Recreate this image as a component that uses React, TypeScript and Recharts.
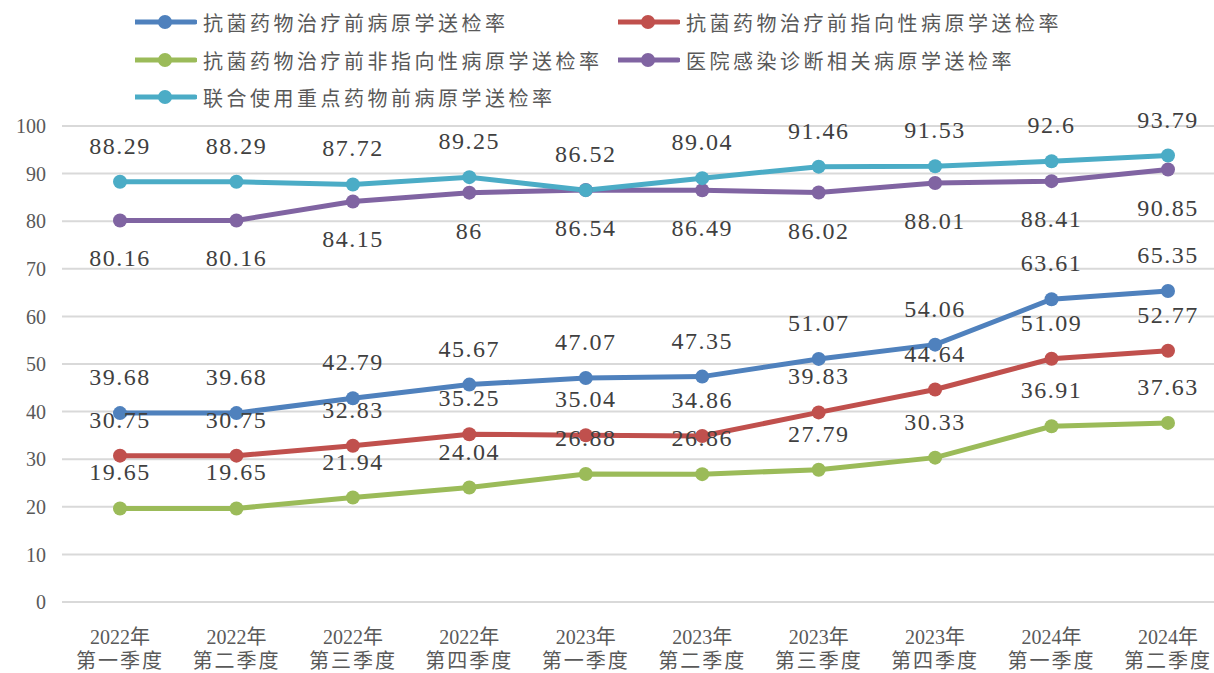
import React from 'react';
import { LineChart, Line, XAxis, YAxis, CartesianGrid, LabelList } from 'recharts';

const years = ['2022年', '2022年', '2022年', '2022年', '2023年', '2023年', '2023年', '2023年', '2024年', '2024年'];
const quarters = ['第一季度', '第二季度', '第三季度', '第四季度', '第一季度', '第二季度', '第三季度', '第四季度', '第一季度', '第二季度'];

const pathogenRate = [39.68, 39.68, 42.79, 45.67, 47.07, 47.35, 51.07, 54.06, 63.61, 65.35];
const targetedRate = [30.75, 30.75, 32.83, 35.25, 35.04, 34.86, 39.83, 44.64, 51.09, 52.77];
const nonTargetedRate = [19.65, 19.65, 21.94, 24.04, 26.88, 26.86, 27.79, 30.33, 36.91, 37.63];
const hospitalInfectionRate = [80.16, 80.16, 84.15, 86, 86.54, 86.49, 86.02, 88.01, 88.41, 90.85];
const keyDrugRate = [88.29, 88.29, 87.72, 89.25, 86.52, 89.04, 91.46, 91.53, 92.6, 93.79];

const yTicks = [0, 10, 20, 30, 40, 50, 60, 70, 80, 90, 100];

const series = [
  { key: 'a', name: '抗菌药物治疗前病原学送检率', color: '#4f81bd', values: pathogenRate, labelDy: -36 },
  { key: 'b', name: '抗菌药物治疗前指向性病原学送检率', color: '#c0504d', values: targetedRate, labelDy: -36 },
  { key: 'c', name: '抗菌药物治疗前非指向性病原学送检率', color: '#9bbb59', values: nonTargetedRate, labelDy: -36 },
  { key: 'd', name: '医院感染诊断相关病原学送检率', color: '#8064a2', values: hospitalInfectionRate, labelDy: 38 },
  { key: 'e', name: '联合使用重点药物前病原学送检率', color: '#4bacc6', values: keyDrugRate, labelDy: -36 },
];

const data = years.map((y, i) => {
  const row: Record<string, string | number> = { year: y, quarter: quarters[i], idx: String(i) };
  series.forEach((s) => {
    row[s.key] = s.values[i];
  });
  return row;
});

const FONT = "'Liberation Serif', 'Noto Sans CJK SC', serif";

// legend slots, same order as series
const legendPos = [
  { left: 135, top: 22 },
  { left: 618, top: 22 },
  { left: 135, top: 60 },
  { left: 618, top: 60 },
  { left: 135, top: 97 },
];

function LegendBox() {
  return (
    <div style={{ position: 'absolute', left: 0, top: 0, width: 1214, height: 120 }}>
      {series.map((s, i) => (
        <div
          key={s.key}
          style={{
            position: 'absolute',
            left: legendPos[i].left,
            top: legendPos[i].top - 14,
            height: 28,
            display: 'flex',
            alignItems: 'center',
            whiteSpace: 'nowrap',
          }}
        >
          <svg width={62} height={20} style={{ marginRight: 6 }}>
            <line x1={0} y1={10} x2={60} y2={10} stroke={s.color} strokeWidth={5} strokeLinecap="round" />
            <circle cx={30} cy={10} r={7} fill={s.color} />
          </svg>
          <span style={{ fontFamily: "'Noto Sans CJK SC', sans-serif", fontSize: 20, color: '#595959', letterSpacing: 3.5 }}>
            {s.name}
          </span>
        </div>
      ))}
    </div>
  );
}

function XTick(props: any) {
  const { x, y, payload } = props;
  const i = Number(payload.value);
  return (
    <g transform={`translate(${x},${y})`}>
      <text textAnchor="middle" fontFamily={FONT} fontSize={20} fill="#595959">
        <tspan x={0} y={34}>{years[i]}</tspan>
        <tspan x={0} y={58} letterSpacing={2}>{quarters[i]}</tspan>
      </text>
    </g>
  );
}

const makeLabel = (dy: number) => (props: any) => {
  const { x, y, value } = props;
  return (
    <text
      x={x}
      y={y + dy}
      textAnchor="middle"
      dominantBaseline="central"
      fontFamily={FONT}
      fontSize={24}
      letterSpacing={1.5}
      fill="#404040"
    >
      {value}
    </text>
  );
};

export default function App() {
  return (
    <div style={{ position: 'fixed', left: 0, top: 0, width: 1214, height: 673, overflow: 'hidden', background: '#fff' }}>
      <LineChart width={1240} height={673} data={data} margin={{ top: 126, right: 14, bottom: 0, left: 0 }}>
        <CartesianGrid vertical={false} stroke="#d9d9d9" strokeWidth={2} />
        <XAxis
          dataKey="idx"
          height={71}
          padding={{ left: 58, right: 58 }}
          axisLine={{ stroke: '#d9d9d9', strokeWidth: 2 }}
          tickLine={false}
          tick={<XTick />}
          interval={0}
        />
        <YAxis
          width={62}
          domain={[0, 100]}
          ticks={yTicks}
          axisLine={false}
          tickLine={false}
          tickSize={0}
          tickMargin={16}
          tick={{ fontSize: 20, fill: '#595959', fontFamily: FONT }}
        />
        {series.map((s) => (
          <Line
            key={s.key}
            type="linear"
            dataKey={s.key}
            name={s.name}
            stroke={s.color}
            strokeWidth={5}
            dot={{ r: 7, fill: s.color, stroke: s.color, strokeWidth: 0 }}
            activeDot={false}
            isAnimationActive={false}
          >
            <LabelList dataKey={s.key} content={makeLabel(s.labelDy)} />
          </Line>
        ))}
      </LineChart>
      <LegendBox />
    </div>
  );
}
